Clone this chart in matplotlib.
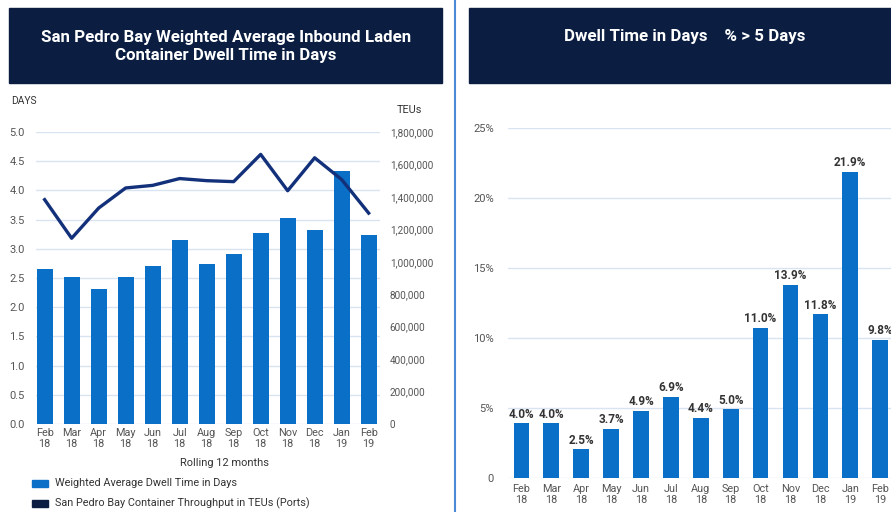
import matplotlib
matplotlib.use("Agg")
import matplotlib.pyplot as plt
from matplotlib.patches import Rectangle
from matplotlib.lines import Line2D
from matplotlib.ticker import FuncFormatter, MultipleLocator

plt.rcParams['font.family'] = ['Roboto', 'DejaVu Sans']

# ---------------- data ----------------
months = ["Feb\n18", "Mar\n18", "Apr\n18", "May\n18", "Jun\n18", "Jul\n18", "Aug\n18",
          "Sep\n18", "Oct\n18", "Nov\n18", "Dec\n18", "Jan\n19", "Feb\n19"]
dwell_days = [2.65, 2.52, 2.31, 2.52, 2.71, 3.15, 2.74, 2.91, 3.27, 3.52, 3.33, 4.33, 3.24]
teus = [1383000, 1145000, 1331000, 1455000, 1471000, 1513000, 1500000, 1494000,
        1662000, 1438000, 1641000, 1507000, 1300000]
pct_over5 = [3.93, 3.93, 2.07, 3.54, 4.81, 5.79, 4.31, 4.93, 10.76, 13.81, 11.71, 21.88, 9.88]
pct_labels = ["4.0%", "4.0%", "2.5%", "3.7%", "4.9%", "6.9%", "4.4%", "5.0%",
              "11.0%", "13.9%", "11.8%", "21.9%", "9.8%"]
left_title = "San Pedro Bay Weighted Average Inbound Laden\nContainer Dwell Time in Days"
right_title = "Dwell Time in Days    % > 5 Days"
legend_labels = ["Weighted Average Dwell Time in Days",
                 "San Pedro Bay Container Throughput in TEUs (Ports)"]

# ---------------- style ----------------
W, H = 891, 512
BAR = "#0a6fc6"
LINE = "#13307a"
NAVY = "#0b1e42"
GRID = "#d9e4f2"
TICK = "#555555"
DARK = "#333333"

fig = plt.figure(figsize=(W / 100, H / 100), dpi=100)
fig.patch.set_facecolor("white")


def fx(px):
    return px / W


def fy(py):
    return 1 - py / H


def axrect(x0, y0, x1, y1):
    return [fx(x0), fy(y1), fx(x1) - fx(x0), (y1 - y0) / H]


# title boxes
fig.patches.append(Rectangle((fx(9), fy(83)), fx(442) - fx(9), 75 / H,
                             transform=fig.transFigure, color=NAVY, zorder=0))
fig.patches.append(Rectangle((fx(469), fy(83)), fx(905) - fx(469), 75 / H,
                             transform=fig.transFigure, color=NAVY, zorder=0))
fig.text(fx(226), fy(46.5), left_title, color="white", fontsize=12.2, fontweight="bold",
         ha="center", va="center", linespacing=1.25)
fig.text(fx(685), fy(36), right_title, color="white", fontsize=12.2, fontweight="bold",
         ha="center", va="center")

# divider
fig.add_artist(Line2D([fx(455.5), fx(455.5)], [0, 1], transform=fig.transFigure,
                      color="#4a8ad6", lw=1.5))

x = list(range(len(months)))

# ---------------- left chart ----------------
ax = fig.add_axes(axrect(36, 132, 380, 424))
ax.bar(x, dwell_days, width=0.59, color=BAR, zorder=2)
ax.set_xlim(-0.32, 12.42)
ax.set_ylim(0, 5.0)
ax.yaxis.set_major_locator(MultipleLocator(0.5))
ax.yaxis.set_major_formatter(FuncFormatter(lambda v, p: f"{v:.1f}"))
ax.grid(axis="y", color=GRID, lw=1, zorder=0)
for s in ax.spines.values():
    s.set_visible(False)
ax.tick_params(axis="both", length=0, colors=TICK, labelsize=8)
ax.tick_params(axis="y", pad=8)
ax.tick_params(axis="x", pad=3, labelsize=7.8)
ax.set_xticks(x)
ax.set_xticklabels(months, linespacing=1.05)

ax2 = ax.twinx()
ax2.plot(x, teus, color=LINE, lw=2.4, zorder=3)
ax2.set_ylim(0, 1800000)
ax2.yaxis.set_major_locator(MultipleLocator(200000))
ax2.yaxis.set_major_formatter(FuncFormatter(lambda v, p: f"{int(v):,}"))
for s in ax2.spines.values():
    s.set_visible(False)
ax2.tick_params(axis="y", length=0, colors=TICK, labelsize=7.2, pad=7)

fig.text(fx(11), fy(101), "DAYS", fontsize=7.4, color=DARK, ha="left", va="center")
fig.text(fx(397), fy(110), "TEUs", fontsize=7.8, color=DARK, ha="left", va="center")
fig.text(fx(224), fy(463), "Rolling 12 months", fontsize=7.9, color=DARK,
         ha="center", va="center")

# legend
fig.patches.append(Rectangle((fx(32), fy(487)), 16 / W, 7 / H, transform=fig.transFigure,
                             color=BAR))
fig.patches.append(Rectangle((fx(32), fy(507)), 16 / W, 7 / H, transform=fig.transFigure,
                             color=NAVY))
fig.text(fx(55), fy(483.5), legend_labels[0], fontsize=7.8, color=DARK, ha="left", va="center")
fig.text(fx(55), fy(503.5), legend_labels[1], fontsize=7.8, color=DARK, ha="left", va="center")

# ---------------- right chart ----------------
bx = fig.add_axes(axrect(508, 128.3, 896, 478.3))
bx.bar(x, pct_over5, width=0.525, color=BAR, zorder=2)
bx.set_xlim(-0.45, 12.53)
bx.set_ylim(0, 25)
bx.yaxis.set_major_locator(MultipleLocator(5))
bx.yaxis.set_major_formatter(FuncFormatter(lambda v, p: "0" if v == 0 else f"{int(v)}%"))
bx.grid(axis="y", color=GRID, lw=1, zorder=0)
for s in bx.spines.values():
    s.set_visible(False)
bx.tick_params(axis="both", length=0, colors=TICK, labelsize=8)
bx.tick_params(axis="y", pad=10)
bx.tick_params(axis="x", pad=4, labelsize=7.8)
bx.set_xticks(x)
bx.set_xticklabels(months, linespacing=1.1)
for i, (v, lab) in enumerate(zip(pct_over5, pct_labels)):
    bx.annotate(lab, (i, v), xytext=(0, 2), textcoords="offset points", ha="center",
                va="bottom", fontsize=8.5, fontweight="bold", color=DARK, clip_on=False)

fig.savefig("out.png", dpi=100)
